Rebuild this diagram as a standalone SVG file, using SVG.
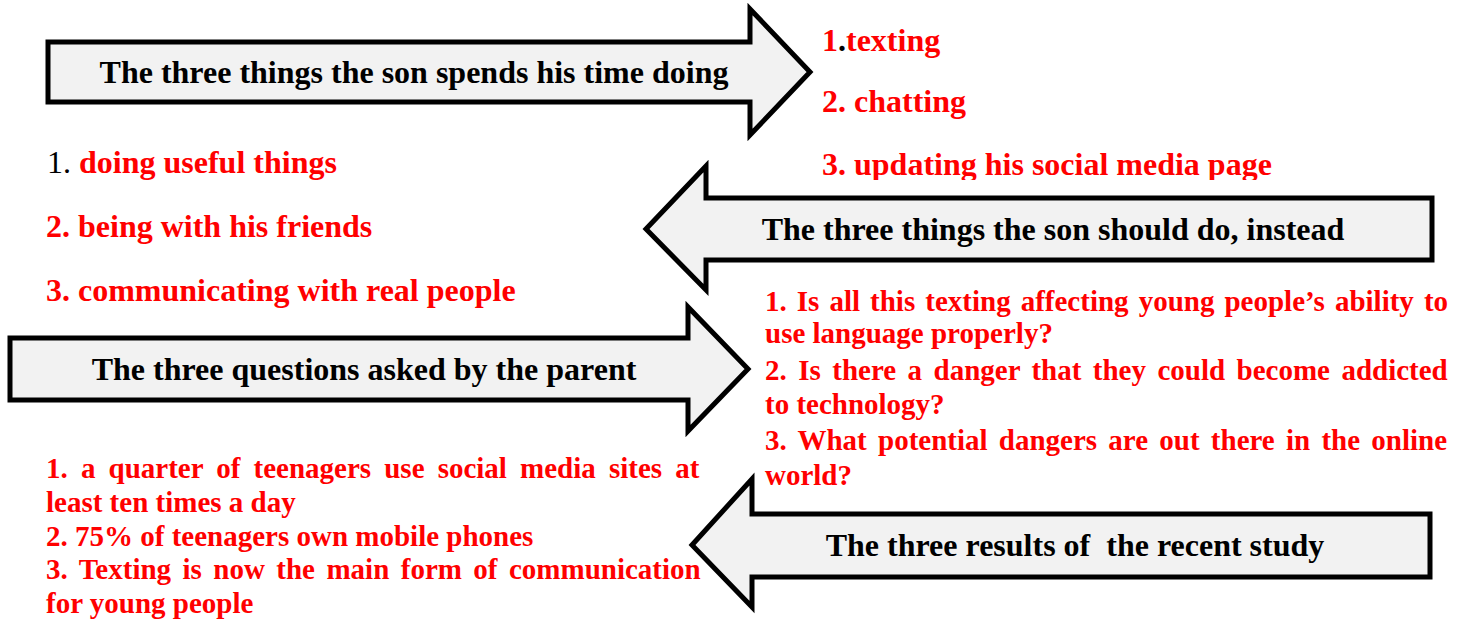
<svg xmlns="http://www.w3.org/2000/svg" width="1463" height="619" viewBox="0 0 1463 619">
<style>
.arrow{fill:#f2f2f2;stroke:#000;stroke-width:5;stroke-linejoin:miter}
.lbl{font-family:"Liberation Serif","Times New Roman",serif;font-weight:bold;font-size:32px;fill:#000;text-anchor:middle}
.r32{font-family:"Liberation Serif","Times New Roman",serif;font-weight:bold;font-size:32px;fill:#ff0000}
.r29{font-family:"Liberation Serif","Times New Roman",serif;font-weight:bold;font-size:29px;fill:#ff0000}
.blk{fill:#000;font-weight:normal}
.dot{fill:#000}
</style>
<defs>
<clipPath id="clipTop"><rect x="800" y="0" width="663" height="180"/></clipPath>
</defs>
<rect width="1463" height="619" fill="#fff"/>
<g id="connectors">
<g id="arrow1"><path class="arrow" d="M48,42 H750 V9 L810,72 L750,135 V102 H48 Z"/><text class="lbl" x="414" y="83">The three things the son spends his time doing</text></g>
<g id="arrow2"><path class="arrow" d="M1432,198 H706 V166 L646,229 L706,290 V260 H1432 Z"/><text class="lbl" x="1053" y="240">The three things the son should do, instead</text></g>
<g id="arrow3"><path class="arrow" d="M10,338 H688 V307 L748,369 L688,431 V400 H10 Z"/><text class="lbl" x="364" y="380">The three questions asked by the parent</text></g>
<g id="arrow4"><path class="arrow" d="M1430,514 H752 V479 L692,545 L752,607 V577 H1430 Z"/><text class="lbl" x="1075" y="556" xml:space="preserve">The three results of  the recent study</text></g>
</g>
<g id="list-son-time" clip-path="url(#clipTop)">
<text class="r32" x="822" y="51">1<tspan class="dot">.</tspan>texting</text>
<text class="r32" x="822" y="112">2. chatting</text>
<text class="r32" x="822" y="175">3. updating his social media page</text>
</g>
<g id="list-should-do">
<text class="r32" x="47" y="173"><tspan class="blk">1. </tspan>doing useful things</text>
<text class="r32" x="46" y="237">2. being with his friends</text>
<text class="r32" x="46" y="301">3. communicating with real people</text>
</g>
<g id="list-questions">
<text class="r29" x="765" y="311" word-spacing="2.8">1. Is all this texting affecting young people’s ability to</text>
<text class="r29" x="765" y="343">use language properly?</text>
<text class="r29" x="765" y="380" word-spacing="4.2">2. Is there a danger that they could become addicted</text>
<text class="r29" x="765" y="414">to technology?</text>
<text class="r29" x="765" y="450" word-spacing="4">3. What potential dangers are out there in the online</text>
<text class="r29" x="765" y="485">world?</text>
</g>
<g id="list-results">
<text class="r29" x="46" y="478" word-spacing="5.9">1. a quarter of teenagers use social media sites at</text>
<text class="r29" x="46" y="512">least ten times a day</text>
<text class="r29" x="46" y="546">2. 75% of teenagers own mobile phones</text>
<text class="r29" x="46" y="579" word-spacing="4.2">3. Texting is now the main form of communication</text>
<text class="r29" x="46" y="613">for young people</text>
</g>
</svg>
